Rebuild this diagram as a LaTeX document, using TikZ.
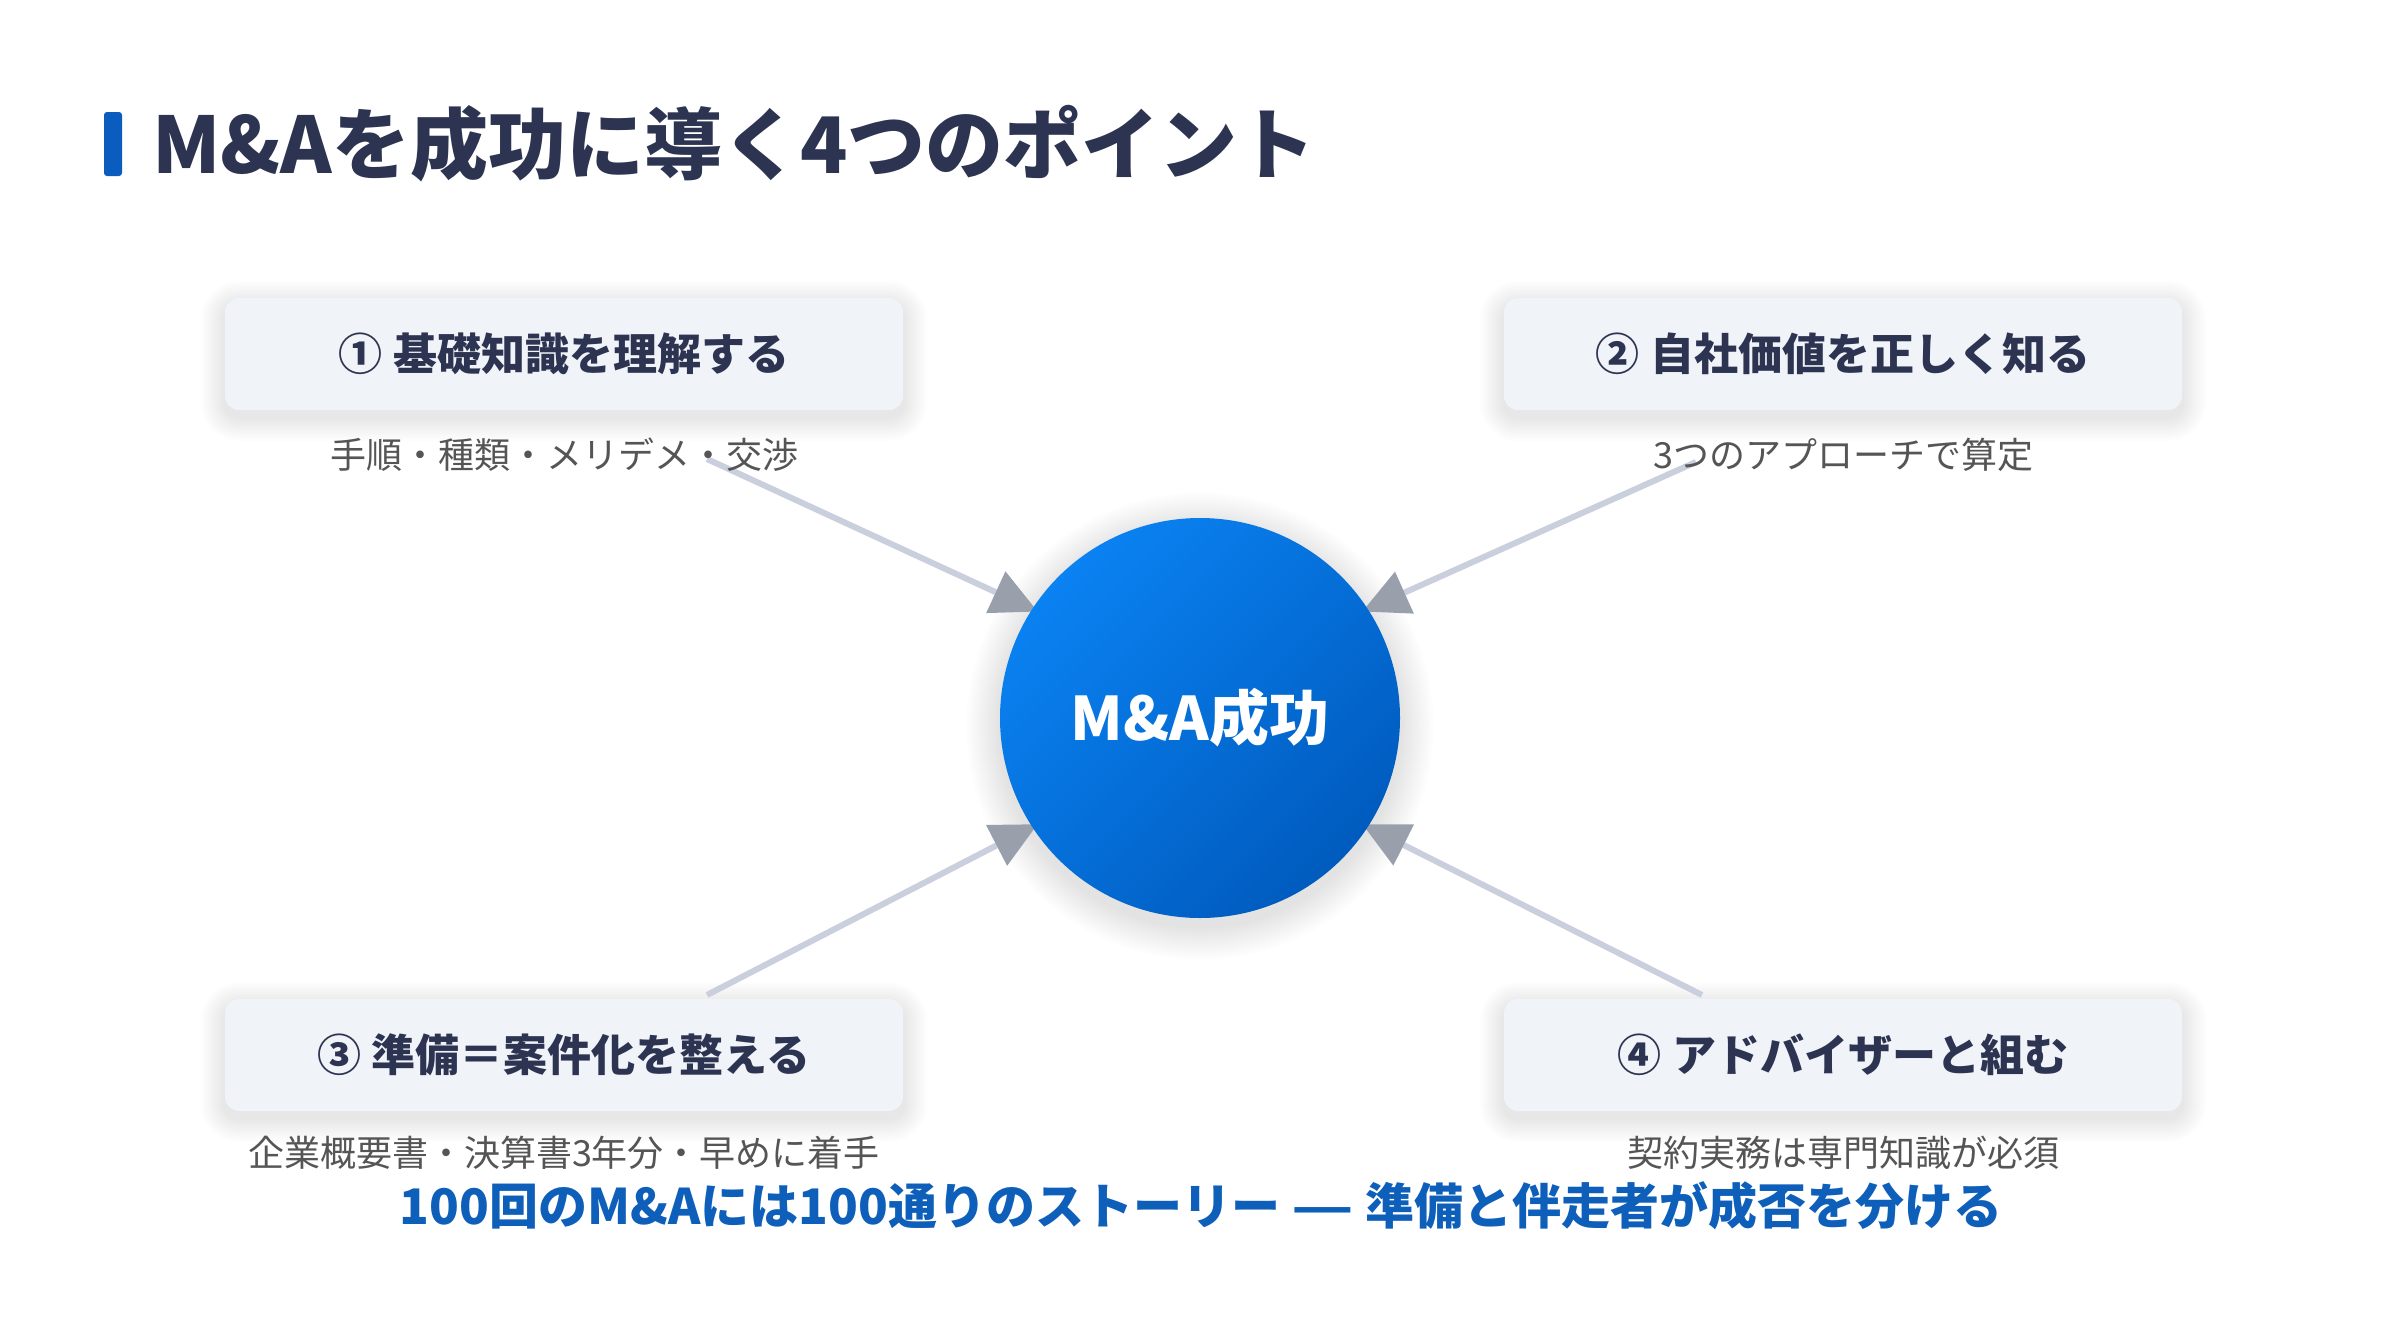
\documentclass[tikz,border=0pt]{standalone}
\usepackage{graphicx}
\usepackage{fontspec}
\setmainfont{Noto Sans CJK JP}
\usetikzlibrary{arrows.meta}
\definecolor{navy}{HTML}{2D3452}
\definecolor{barblue}{HTML}{0A5CBF}
\definecolor{boxbg}{HTML}{F0F3F7}
\definecolor{subgray}{HTML}{555555}
\definecolor{linegray}{HTML}{C9CFDC}
\definecolor{tipgray}{HTML}{9AA0AB}
\definecolor{circA}{HTML}{0A82F2}
\definecolor{circB}{HTML}{005BBE}
\definecolor{tagblue}{HTML}{0D5FBA}
\definecolor{shadowc}{HTML}{1A2440}
\pgfdeclarelayer{bg}
\pgfdeclarelayer{mid}
\pgfsetlayers{bg,mid,main}
\tikzset{
  pointbox/.style={rounded corners=14pt, fill=boxbg, minimum width=678pt, minimum height=112pt,
    inner sep=0pt, text=navy, font=\fontsize{44}{52}\selectfont\bfseries},
  subtext/.style={inner sep=0pt, text=subgray, font=\fontsize{36}{44}\selectfont},
  hub/.style={circle, minimum size=400pt, inner sep=0pt, top color=circA, bottom color=circB,
    shading angle=45, text=white, font=\fontsize{60}{70}\selectfont\bfseries},
  conn/.style={draw=linegray, line width=6pt,
    -{Triangle[length=46pt, width=46pt, fill=tipgray, color=tipgray, line width=0pt]}},
  softshade/.style={fill=shadowc, opacity=0.009},
}
\newcommand{\myboxshadow}[2]{%
  \foreach \i in {1,...,12}{%
    \pgfmathsetmacro{\rr}{14+2*\i}%
    \fill[softshade, rounded corners=\rr pt] (#1-339-2*\i, #2-56-2*\i+7) rectangle (#1+339+2*\i, #2+56+2*\i+7);
  }}
\newcommand{\mycircshadow}[2]{%
  \foreach \i in {1,...,14}{%
    \fill[softshade] (#1,#2+8) circle[radius=200+2.4*\i];
  }}
\begin{document}
\begin{tikzpicture}[x=1pt,y=-1pt]
\begin{pgfonlayer}{bg}
  \fill[white] (0,0) rectangle (2400,1330);
  \myboxshadow{564}{354}
  \myboxshadow{1843}{354}
  \myboxshadow{564}{1055}
  \myboxshadow{1843}{1055}
  \mycircshadow{1200}{718}
\end{pgfonlayer}
\useasboundingbox (0,0) rectangle (2400,1330);

% title
\fill[barblue, rounded corners=3pt] (104,112) rectangle (122,176);
\node[anchor=base west, inner sep=0pt, text=navy, font=\fontsize{78}{90}\selectfont\bfseries] (title) at (152,173) {M\&Aを成功に導く4つのポイント};

% boxes
\node[pointbox] (b1) at (564,354) {① 基礎知識を理解する};
\node[pointbox] (b2) at (1843,354) {② 自社価値を正しく知る};
\node[pointbox] (b3) at (564,1055) {③ 準備＝案件化を整える};
\node[pointbox] (b4) at (1843,1055) {④ アドバイザーと組む};

\node[subtext] (t1) at (564,455) {手順・種類・メリデメ・交渉};
\node[subtext] (t2) at (1843,455) {3つのアプローチで算定};
\node[subtext] (t3) at (564,1153) {企業概要書・決算書3年分・早めに着手};
\node[subtext] (t4) at (1843,1153) {契約実務は専門知識が必須};

% hub
\node[hub] (c) at (1200,718) {M\&A成功};

% connectors
\coordinate (s1) at (707,459);
\coordinate (s2) at (1696,462);
\coordinate (s3) at (707,995);
\coordinate (s4) at (1702,995);
\begin{pgfonlayer}{mid}
  \draw[conn, shorten >=-6pt] (s1) -- (c.147);
  \draw[conn, shorten >=-6pt] (s2) -- (c.33);
  \draw[conn, shorten >=-6pt] (s3) -- (c.213);
  \draw[conn, shorten >=-6pt] (s4) -- (c.327);
\end{pgfonlayer}

% tagline
\node[inner sep=0pt, text=tagblue, font=\fontsize{49}{60}\selectfont\bfseries] (tag) at (1201,1206)
  {100回のM\&Aには100通りのストーリー \scalebox{1.4}[1]{—} 準備と伴走者が成否を分ける};
\end{tikzpicture}
\end{document}
